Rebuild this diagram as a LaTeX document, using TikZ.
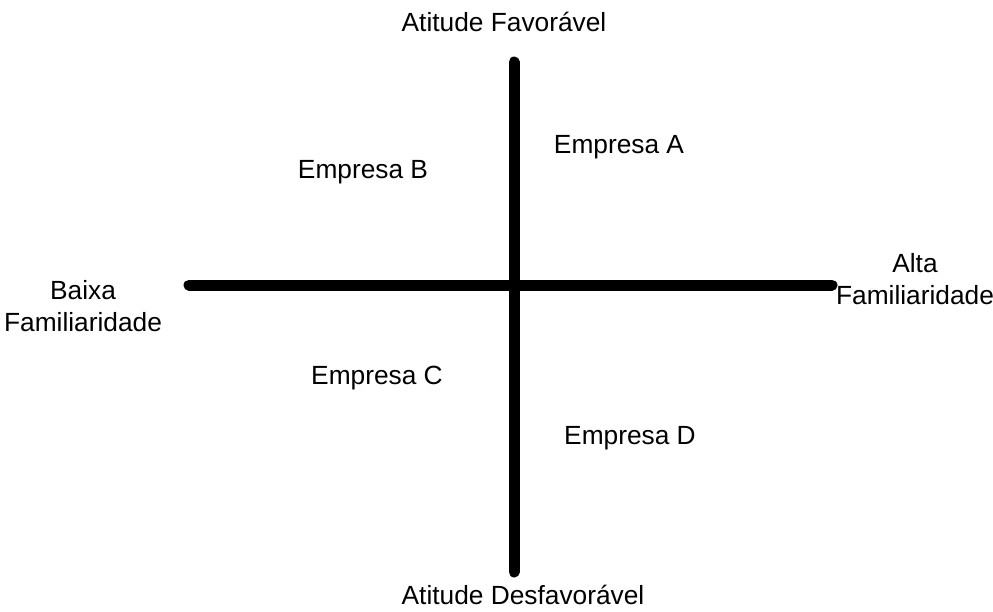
\documentclass[tikz,border=0pt]{standalone}
\usepackage{fontspec}
\setmainfont{Liberation Sans}
\begin{document}
\begin{tikzpicture}[x=1pt,y=-1pt,
  axis/.style={line width=11pt,line cap=round},
  lbl/.style={font=\fontsize{26.3}{31.5}\selectfont,inner sep=0pt,align=center}]
\useasboundingbox[fill=white] (0,0) rectangle (993,611);
\coordinate (top) at (514,62);
\coordinate (bot) at (514,572);
\coordinate (left) at (189,285);
\coordinate (right) at (832,285);
\draw[axis] (top) -- (bot);
\draw[axis] (left) -- (right);
\node[lbl] (fav) at (504,22) {Atitude Favorável};
\node[lbl] (desf) at (523,595) {Atitude Desfavorável};
\node[lbl] (baixa) at (83,306) {Baixa\\Familiaridade};
\node[lbl] (alta) at (915,279) {Alta\\Familiaridade};
\node[lbl] (ea) at (619,147) {Empresa A};
\node[lbl] (eb) at (363,172) {Empresa B};
\node[lbl] (ec) at (377,378) {Empresa C};
\node[lbl] (ed) at (630,438) {Empresa D};
\end{tikzpicture}
\end{document}
